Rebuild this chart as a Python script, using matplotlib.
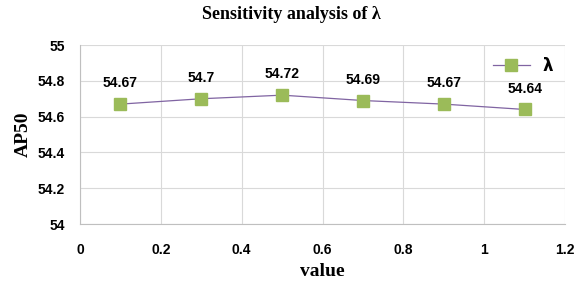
import matplotlib
matplotlib.use("Agg")
import matplotlib.pyplot as plt

x_vals = [0.1, 0.3, 0.5, 0.7, 0.9, 1.1]
ap50 = [54.67, 54.70, 54.72, 54.69, 54.67, 54.64]
point_labels = ["54.67", "54.7", "54.72", "54.69", "54.67", "54.64"]
x_ticks = [0, 0.2, 0.4, 0.6, 0.8, 1, 1.2]
y_ticks = [54, 54.2, 54.4, 54.6, 54.8, 55]

fig = plt.figure(figsize=(5.82, 2.87), dpi=100)
ax = fig.add_axes([0.1375, 0.2195, 0.8335, 0.6235])

ax.plot(x_vals, ap50, color="#8064A2", linewidth=0.9, marker="s",
        markersize=9, markerfacecolor="#9BBB59", markeredgecolor="#9BBB59",
        label="λ", zorder=3)
for xv, yv, lab in zip(x_vals, ap50, point_labels):
    ax.annotate(lab, (xv, yv), xytext=(0, 10), textcoords="offset points",
                ha="center", va="bottom", fontsize=10, fontweight="bold",
                family="Liberation Sans")

ax.set_xlim(0, 1.2)
ax.set_ylim(54, 55)
ax.set_xticks(x_ticks)
ax.set_xticklabels([f"{t:g}" for t in x_ticks])
ax.set_yticks(y_ticks)
ax.set_yticklabels([f"{t:g}" for t in y_ticks])
for lab in ax.get_xticklabels() + ax.get_yticklabels():
    lab.set_fontweight("bold")
    lab.set_family("Liberation Sans")
    lab.set_fontsize(10)
ax.tick_params(axis="x", length=0, pad=14)
ax.tick_params(axis="y", length=0, pad=11)

ax.grid(True, color="#D9D9D9", linewidth=0.8)
ax.set_axisbelow(True)
for side in ["top", "right"]:
    ax.spines[side].set_visible(False)
for side in ["left", "bottom"]:
    ax.spines[side].set_color("#BFBFBF")
    ax.spines[side].set_linewidth(0.8)

fig.text(0.5, 0.948, "Sensitivity analysis of λ", family="Liberation Serif",
         fontweight="bold", fontsize=13, ha="center", va="center")
ax.set_xlabel("value", family="Liberation Serif", fontweight="bold",
              fontsize=14, labelpad=4)
ax.set_ylabel("AP50", family="Liberation Serif", fontweight="bold",
              fontsize=14, labelpad=4)

leg = ax.legend(loc="upper right", frameon=False, handlelength=2.2,
                prop={"weight": "bold", "size": 12}, borderaxespad=0.3)

fig.savefig("out.png", dpi=100)
